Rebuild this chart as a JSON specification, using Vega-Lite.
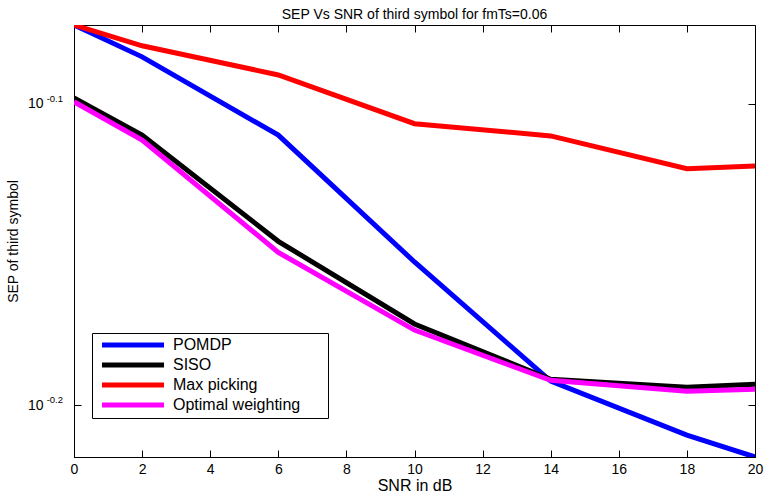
{
  "$schema": "https://vega.github.io/schema/vega-lite/v6.json",
  "width": 681,
  "height": 432,
  "autosize": {"type": "none"},
  "padding": {"left": 74, "top": 25, "right": 11, "bottom": 38},
  "background": "white",
  "config": {
    "font": "Liberation Sans",
    "view": {"stroke": "black", "strokeWidth": 1},
    "axis": {"grid": false, "domainColor": "black", "tickColor": "black", "labelColor": "black", "titleColor": "black", "labelFont": "Liberation Sans", "titleFont": "Liberation Sans", "titleFontWeight": "normal"}
  },
  "title": {"text": "SEP Vs SNR of third symbol for fmTs=0.06", "fontSize": 14, "fontWeight": "normal", "offset": 3, "font": "Liberation Sans", "color": "black"},
  "data": {"values": [
    {"snr": 0, "sep": 0.8437, "series": "POMDP"},
    {"snr": 2, "sep": 0.8234, "series": "POMDP"},
    {"snr": 6, "sep": 0.7756, "series": "POMDP"},
    {"snr": 10, "sep": 0.7039, "series": "POMDP"},
    {"snr": 14, "sep": 0.6426, "series": "POMDP"},
    {"snr": 18, "sep": 0.6166, "series": "POMDP"},
    {"snr": 20, "sep": 0.6064, "series": "POMDP"},
    {"snr": 0, "sep": 0.7980, "series": "SISO"},
    {"snr": 2, "sep": 0.7756, "series": "SISO"},
    {"snr": 6, "sep": 0.7151, "series": "SISO"},
    {"snr": 10, "sep": 0.6713, "series": "SISO"},
    {"snr": 14, "sep": 0.6435, "series": "SISO"},
    {"snr": 18, "sep": 0.6396, "series": "SISO"},
    {"snr": 20, "sep": 0.6411, "series": "SISO"},
    {"snr": 0, "sep": 0.8437, "series": "Max picking"},
    {"snr": 2, "sep": 0.8304, "series": "Max picking"},
    {"snr": 6, "sep": 0.8121, "series": "Max picking"},
    {"snr": 10, "sep": 0.7824, "series": "Max picking"},
    {"snr": 14, "sep": 0.7751, "series": "Max picking"},
    {"snr": 18, "sep": 0.7559, "series": "Max picking"},
    {"snr": 20, "sep": 0.7575, "series": "Max picking"},
    {"snr": 0, "sep": 0.7956, "series": "Optimal weighting"},
    {"snr": 2, "sep": 0.7727, "series": "Optimal weighting"},
    {"snr": 6, "sep": 0.7091, "series": "Optimal weighting"},
    {"snr": 10, "sep": 0.6682, "series": "Optimal weighting"},
    {"snr": 14, "sep": 0.6430, "series": "Optimal weighting"},
    {"snr": 18, "sep": 0.6377, "series": "Optimal weighting"},
    {"snr": 20, "sep": 0.6386, "series": "Optimal weighting"}
  ]},
  "resolve": {"axis": {"x": "independent", "y": "independent"}},
  "layer": [
    {
      "mark": {"type": "line", "strokeWidth": 5, "clip": true},
      "encoding": {
        "x": {"field": "snr", "type": "quantitative", "scale": {"domain": [0, 20], "nice": false},
              "axis": {"orient": "bottom", "title": "SNR in dB", "values": [0,2,4,6,8,10,12,14,16,18,20], "tickSize": -7, "labelPadding": 12, "labelFontSize": 14, "titleFontSize": 16, "titlePadding": 1, "labelFlush": false}},
        "y": {"field": "sep", "type": "quantitative", "scale": {"type": "log", "domain": [0.6064, 0.8437], "nice": false, "zero": false},
              "axis": {"orient": "left", "title": "SEP of third symbol", "values": [0.794328, 0.630957], "labelExpr": "'10'", "tickSize": -7, "labelPadding": 38, "labelFontSize": 14, "labelDy": 2, "titleFontSize": 14, "titlePadding": 7}},
        "color": {"field": "series", "type": "nominal",
                  "scale": {"domain": ["POMDP", "SISO", "Max picking", "Optimal weighting"], "range": ["#0000ff", "#000000", "#ff0000", "#ff00ff"]},
                  "legend": {"title": null, "orient": "none", "legendX": 18, "legendY": 308, "symbolType": "M-5,0H5", "symbolSize": 154, "symbolStrokeWidth": 5, "symbolOffset": 29, "labelFontSize": 16, "labelFont": "Liberation Sans", "labelColor": "black", "labelExpr": "datum.label + '\u2800\u2800'", "labelLimit": 250, "strokeColor": "black", "fillColor": "white", "padding": 3, "rowPadding": 0, "labelOffset": 31}},
        "order": {"field": "snr", "type": "quantitative"}
      }
    },
    {
      "data": {"values": [{"t": "-0.1", "v": 0.794328}, {"t": "-0.2", "v": 0.630957}]},
      "mark": {"type": "text", "align": "right", "baseline": "middle", "dx": -11, "dy": -5, "fontSize": 9.5, "font": "Liberation Sans", "color": "black", "clip": false},
      "encoding": {
        "x": {"datum": 0, "type": "quantitative", "axis": null},
        "y": {"field": "v", "type": "quantitative", "axis": null},
        "text": {"field": "t"}
      }
    },
    {
      "mark": {"type": "line", "strokeOpacity": 0},
      "encoding": {
        "x": {"field": "snr", "type": "quantitative", "axis": {"orient": "top", "title": null, "labels": false, "values": [0,2,4,6,8,10,12,14,16,18,20], "tickSize": -7, "domain": false}},
        "y": {"field": "sep", "type": "quantitative", "axis": {"orient": "right", "title": null, "labels": false, "values": [0.794328, 0.630957], "tickSize": -7, "domain": false}}
      }
    }
  ]
}
